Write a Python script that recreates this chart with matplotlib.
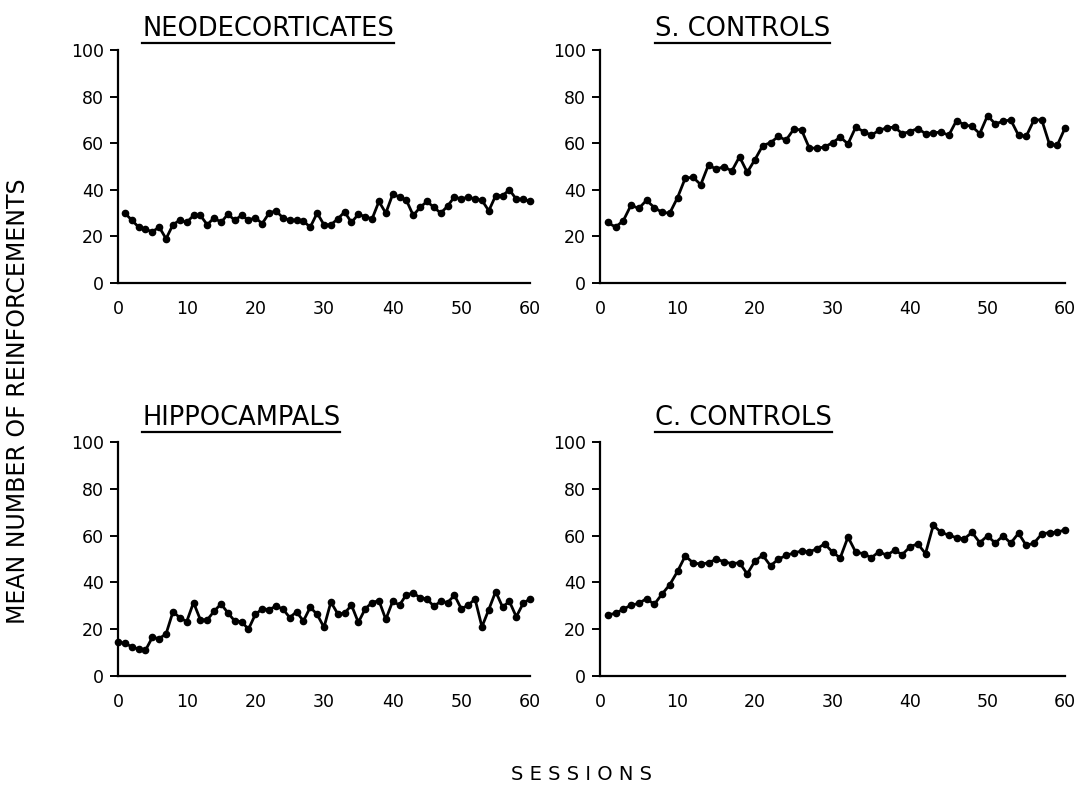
import numpy as np
import matplotlib
matplotlib.use("Agg")
import matplotlib.pyplot as plt
from matplotlib.lines import Line2D

# mean reinforcements per session
neo_vals = [30, 27, 24, 23, 22, 24, 19, 25, 27, 26,
            29, 29, 25, 28, 26, 29.5, 27, 29, 27, 28,
            25.5, 30, 31, 28, 27, 27, 26.5, 24, 30, 25,
            25, 27.5, 30.5, 26, 29.5, 28.5, 27.5, 35, 30, 38,
            37, 35.5, 29, 32.5, 35, 32.5, 30, 33, 37, 36,
            37, 36, 35.5, 31, 37.5, 37.5, 40, 36, 36, 35]
neo_sess = list(range(1, 61))

sctl_vals = [26, 24, 26.7, 33.4, 32, 35.5, 32.4, 30.3, 30, 36.6,
             45, 45.4, 42.2, 50.7, 48.8, 50, 48, 54.2, 47.5, 53,
             59, 60.2, 62.9, 61.3, 66, 65.7, 58, 57.8, 58.4, 60.2,
             62.6, 59.7, 66.9, 65, 63.4, 65.5, 66.6, 66.9, 64.1, 65,
             66.3, 64.1, 64.4, 64.8, 63.4, 69.7, 67.9, 67.2, 64.1, 71.8,
             68.3, 69.4, 70, 63.4, 63, 70, 70, 59.5, 59.1, 66.5]
sctl_sess = list(range(1, 61))

hip_vals = [14.5, 14, 12.5, 11.5, 11, 16.5, 16, 18, 27.4, 25,
            23.2, 31.4, 24, 24, 27.7, 30.8, 27, 23.5, 23.2, 20,
            26.3, 28.7, 28.4, 29.8, 28.7, 25, 27.4, 23.5, 29.4, 26.3,
            20.8, 31.6, 26.6, 26.8, 30.3, 22.9, 28.7, 31.4, 32.2, 24.2,
            31.9, 30.3, 34.8, 35.4, 33.5, 32.9, 29.8, 31.9, 31.4, 34.5,
            28.7, 30.3, 32.9, 21, 28.4, 36.1, 29.5, 31.9, 25.3, 31, 33]
hip_sess = list(range(0, 61))

cctl_vals = [26.1, 26.8, 28.5, 30.3, 31, 33.1, 30.6, 35, 39, 44.7,
             51.3, 48.4, 47.8, 48.4, 49.9, 48.9, 48, 48.4, 43.6, 49.2,
             51.6, 47.1, 49.9, 51.5, 52.6, 53.4, 53, 54.4, 56.5, 52.9,
             50.5, 59.4, 52.9, 52.3, 50.5, 53.1, 51.6, 53.7, 51.9, 55.2,
             56.5, 52.3, 64.4, 61.4, 60.2, 59.1, 58.6, 61.4, 57, 59.9,
             56.8, 59.9, 56.8, 61, 55.8, 56.8, 60.7, 61.3, 61.4, 62.5]
cctl_sess = list(range(1, 61))

titles = ["NEODECORTICATES", "S. CONTROLS", "HIPPOCAMPALS", "C. CONTROLS"]
yticks = [0, 20, 40, 60, 80, 100]
xticks = [0, 10, 20, 30, 40, 50, 60]

W, H = 1087, 802
fig = plt.figure(figsize=(W / 100, H / 100), dpi=100)

# axes boxes in pixels: left, top(y of 100), right(x of 60), bottom(y of 0)
boxes = [(118, 50, 530, 283), (600, 50, 1065, 283),
         (118, 442, 530, 676), (600, 442, 1065, 676)]
# title start x and baseline y in pixels
title_pos = [(142, 36), (655, 36), (142, 425), (655, 425)]
series = [(neo_sess, neo_vals), (sctl_sess, sctl_vals),
          (hip_sess, hip_vals), (cctl_sess, cctl_vals)]

axes = []
for (l, t, r, b), (xs, ys) in zip(boxes, series):
    ax = fig.add_axes([l / W, 1 - b / H, (r - l) / W, (b - t) / H])
    ax.plot(xs, ys, color="black", lw=2.0, marker="o", ms=4.5,
            clip_on=False)
    ax.set_xlim(0, 60)
    ax.set_ylim(0, 100)
    ax.set_xticks(xticks)
    ax.set_yticks(yticks)
    ax.spines["top"].set_visible(False)
    ax.spines["right"].set_visible(False)
    ax.spines["left"].set_linewidth(1.6)
    ax.spines["bottom"].set_linewidth(1.6)
    ax.tick_params(axis="y", direction="out", length=6, width=1.4,
                   pad=4, labelsize=12.5)
    ax.tick_params(axis="x", length=0, pad=12, labelsize=12.5)
    axes.append(ax)

texts = []
for (tx, ty), title in zip(title_pos, titles):
    txt = fig.text(tx / W, 1 - ty / H, title, fontsize=18.5,
                   ha="left", va="baseline")
    texts.append(txt)

fig.text(0.017, 0.5, "MEAN NUMBER OF REINFORCEMENTS", rotation=90,
         ha="center", va="center", fontsize=17)
fig.text(0.535, 1 - 775 / H, "S E S S I O N S", ha="center", va="center",
         fontsize=14)

# underline the panel titles
fig.canvas.draw()
renderer = fig.canvas.get_renderer()
for txt in texts:
    bb = txt.get_window_extent(renderer)
    y = bb.y0 - 1
    fig.add_artist(Line2D([bb.x0 / W, bb.x1 / W], [y / H, y / H],
                          transform=fig.transFigure, color="black", lw=1.6))

fig.savefig("out.png", dpi=100)
